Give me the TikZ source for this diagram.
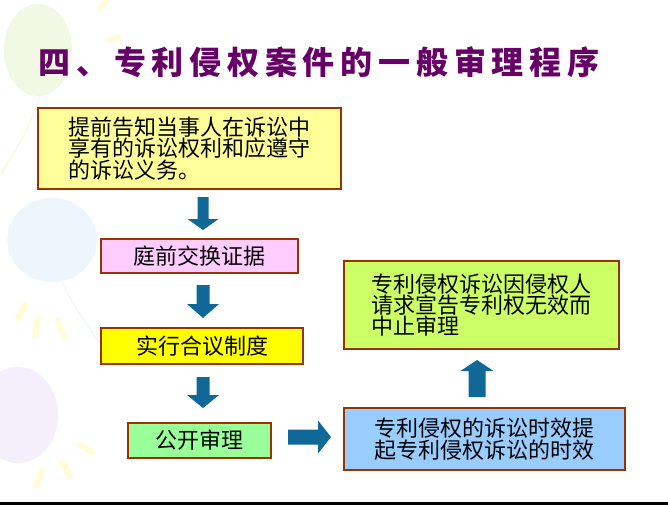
\documentclass[tikz,border=0pt]{standalone}
\usepackage{fontspec}
\setmainfont{Noto Sans CJK SC}
\newfontfamily\titlefont[LetterSpace=18]{Noto Sans CJK SC}

\definecolor{titlepurple}{RGB}{102,0,102}
\definecolor{boxedge}{RGB}{153,51,0}
\definecolor{arrowblue}{RGB}{16,104,152}
\definecolor{paleyellow}{RGB}{255,255,153}
\definecolor{palepink}{RGB}{255,204,255}
\definecolor{brightyellow}{RGB}{255,255,0}
\definecolor{palegreen}{RGB}{153,255,153}
\definecolor{paleblue}{RGB}{153,204,255}
\definecolor{limegreen}{RGB}{204,255,102}
\definecolor{balloongreen}{RGB}{242,248,228}
\definecolor{balloonblue}{RGB}{238,246,253}
\definecolor{balloonpurple}{RGB}{245,239,252}
\definecolor{raysyellow}{RGB}{255,252,215}

% block arrow: centre, angle, length, shaft, head width, head length
\newcommand\blockarrow[6]{%
  \fill[arrowblue, shift={(#1)}, rotate=#2]
    (-#3/2,-#4/2) -- (#3/2-#6,-#4/2) -- (#3/2-#6,-#5/2) -- (#3/2,0)
    -- (#3/2-#6,#5/2) -- (#3/2-#6,#4/2) -- (-#3/2,#4/2) -- cycle;}

\begin{document}
\begin{tikzpicture}[x=1pt, y=-1pt,
  box/.style={draw=boxedge, line width=1.8pt, inner sep=0pt, align=left,
    font=\fontsize{22}{20}\selectfont},
  balloon/.style={line width=6pt, line cap=round, raysyellow}]
	\useasboundingbox (0,0) rectangle (668,505);
	\fill[white] (0,0) rectangle (668,505);
	% background balloons
	\fill[balloongreen] (38,50) ellipse [x radius=34, y radius=46];
	\fill[balloonblue] (52,240) ellipse [x radius=45, y radius=42];
	\fill[balloonpurple] (18,415) ellipse [x radius=40, y radius=48];
	\draw[balloongreen, line width=1pt] (40,96) .. controls (30,130) and (10,160) .. (0,175);
	\draw[balloonblue, line width=1pt] (62,282) .. controls (80,320) and (100,340) .. (110,360);
	\draw[balloon] (100,8) -- (106,2);
	\draw[balloon] (110,40) -- (118,38);
	\draw[balloon] (25,305) -- (18,318);
	\draw[balloon] (38,318) -- (35,335);
	\draw[balloon] (58,320) -- (64,336);
	\draw[balloon] (42,470) -- (36,486);
	\draw[balloon] (62,462) -- (70,476);
	\draw[balloon] (80,445) -- (92,452);
	% title
	\node[titlepurple, font=\titlefont\bfseries\fontsize{32}{36}\selectfont] (title) at (319,62)
		{四、专利侵权案件的一般审理程序};
	% left column
	\node[box, fill=paleyellow, minimum width=303, minimum height=81] (tell) at (189.5,148.5)
		{提前告知当事人在诉讼中\\享有的诉讼权利和应遵守\\的诉讼义务。};
	\node[box, fill=palepink, minimum width=197, minimum height=34] (evidence) at (199.5,256) {庭前交换证据};
	\node[box, fill=brightyellow, minimum width=202, minimum height=36] (panel) at (202,346) {实行合议制度};
	\node[box, fill=palegreen, minimum width=143, minimum height=35] (hearing) at (199.5,440.5) {公开审理};
	% right column
	\node[box, fill=paleblue, minimum width=281, minimum height=62] (limit) at (484.5,439)
		{专利侵权的诉讼时效提\\起专利侵权诉讼的时效};
	\node[box, fill=limegreen, minimum width=275, minimum height=88,
		font=\fontsize{22}{21}\selectfont] (suspend) at (481.5,305)
		{专利侵权诉讼因侵权人\\请求宣告专利权无效而\\中止审理};
	% arrows
	\coordinate (a1) at (203,213.5);
	\coordinate (a2) at (203,301.5);
	\coordinate (a3) at (203,392.5);
	\coordinate (a4) at (309.5,437);
	\coordinate (a5) at (477,378.5);
	\blockarrow{a1}{-90}{33}{11}{31}{11}
	\blockarrow{a2}{-90}{33}{13}{32}{14}
	\blockarrow{a3}{-90}{31}{13}{32}{13}
	\blockarrow{a4}{0}{43}{15}{33}{13}
	\blockarrow{a5}{90}{37}{17}{33}{11}
	\fill[black] (0,502) rectangle (668,505);
\end{tikzpicture}
\end{document}
